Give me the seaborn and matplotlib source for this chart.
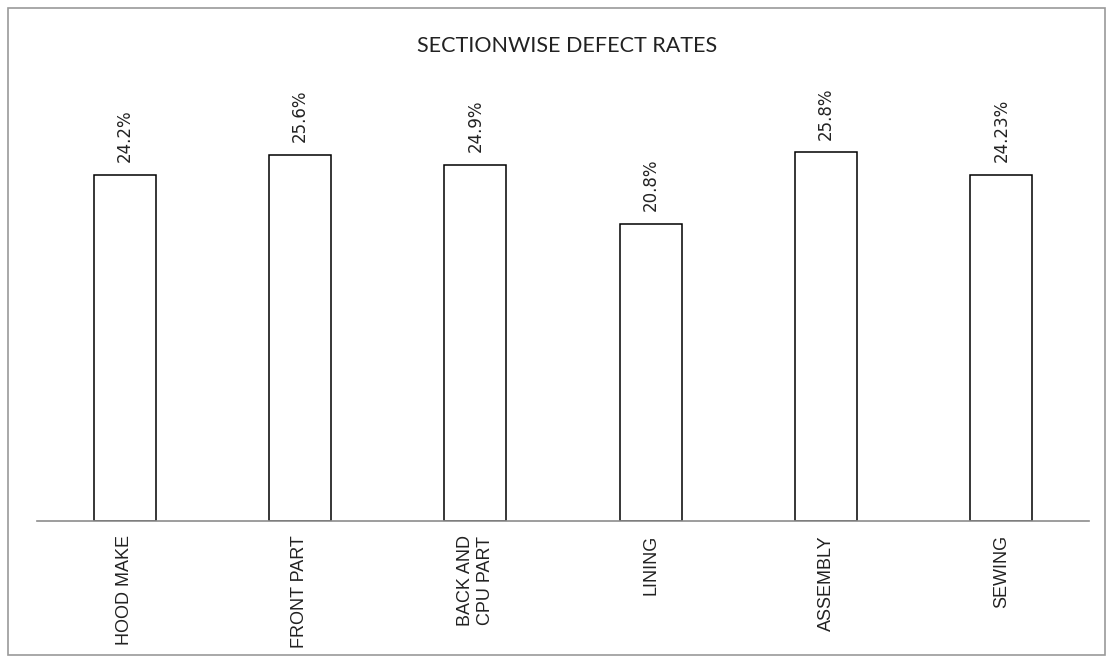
import matplotlib
matplotlib.use("Agg")
import matplotlib.pyplot as plt
import matplotlib.patches as mpatches
import seaborn as sns
import pandas as pd

sections = ["HOOD MAKE", "FRONT PART", "BACK AND\nCPU PART", "LINING", "ASSEMBLY", "SEWING"]
defect_rates = [24.2, 25.6, 24.9, 20.8, 25.8, 24.23]
rate_labels = ["24.2%", "25.6%", "24.9%", "20.8%", "25.8%", "24.23%"]

df = pd.DataFrame({"section": sections, "rate": defect_rates})

sns.set_theme(style="white")
plt.rcParams["font.family"] = ["Liberation Sans", "DejaVu Sans"]

fig = plt.figure(figsize=(11.10, 6.61), dpi=100)
ax = fig.add_axes([0.0333, 0.2118, 0.9478, 0.6490])

sns.barplot(data=df, x="section", y="rate", color="white", edgecolor="black",
            linewidth=1.1, width=0.355, saturation=1, ax=ax)

ax.set_ylim(0, 30)
ax.set_xlim(-0.5, len(sections) - 0.5)
ax.set_xlabel("")
ax.set_ylabel("")
ax.set_yticks([])
ax.tick_params(axis="x", length=0, pad=10)
for lbl in ax.get_xticklabels():
    lbl.set_rotation(90)
    lbl.set_fontsize(13)
    lbl.set_color("#222222")
    lbl.set_va("top")
    lbl.set_ha("center")
    lbl.set_multialignment("center")

for s in ["top", "right", "left"]:
    ax.spines[s].set_visible(False)
ax.spines["bottom"].set_color("#8c8c8c")
ax.spines["bottom"].set_linewidth(1.2)

for i, (v, t) in enumerate(zip(defect_rates, rate_labels)):
    ax.annotate(t, (i, v), xytext=(0, 9), textcoords="offset points",
                rotation=90, ha="center", va="bottom", fontsize=12,
                color="#222222", family=["DejaVu Sans"])

fig.text(0.511, 0.931, "SECTIONWISE DEFECT RATES", ha="center", va="center",
         fontsize=15.5, color="#222222", family=["Lato", "DejaVu Sans"])

# outer chart frame
frame = mpatches.Rectangle((8 / 1110, 6 / 661), 1097 / 1110, 647 / 661,
                           transform=fig.transFigure, fill=False,
                           edgecolor="#9a9a9a", linewidth=1.2)
fig.patches.append(frame)

fig.savefig("out.png", dpi=100, facecolor="white")
